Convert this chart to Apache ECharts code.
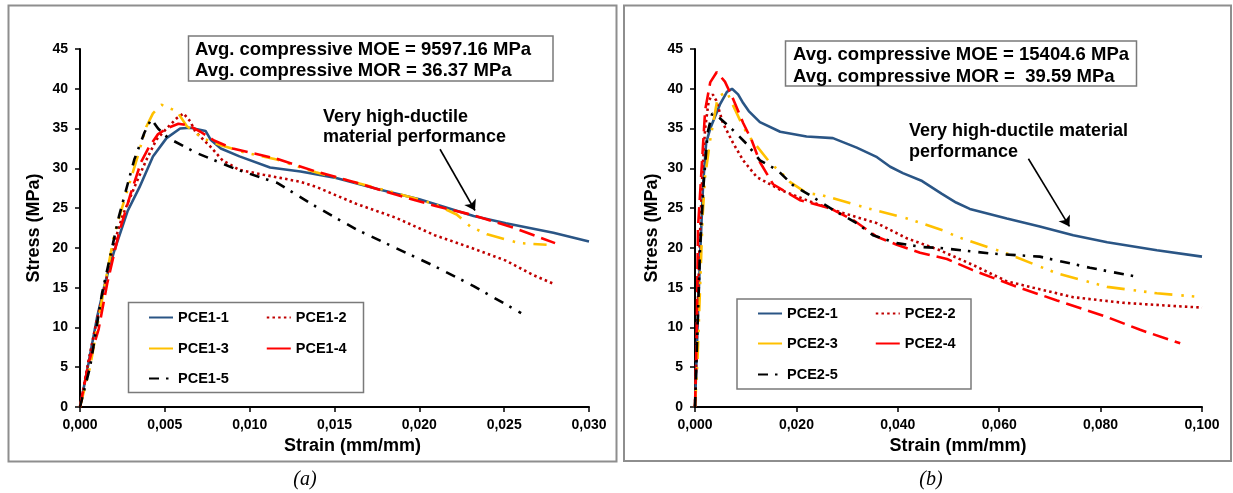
<!DOCTYPE html>
<html><head><meta charset="utf-8">
<script src="https://cdn.jsdelivr.net/npm/echarts@6/dist/echarts.min.js"></script>
<style>html,body{margin:0;padding:0;background:#fff}#c{width:1233px;height:493px}</style>
</head><body><div id="c"></div>
<script>
// ---------- DATA ----------
const yTicks = ['0','5','10','15','20','25','30','35','40','45'];
const xTicksA = ['0,000','0,005','0,010','0,015','0,020','0,025','0,030'];
const xTicksB = ['0,000','0,020','0,040','0,060','0,080','0,100'];
const namesA = ['PCE1-1','PCE1-2','PCE1-3','PCE1-4','PCE1-5'];
const namesB = ['PCE2-1','PCE2-2','PCE2-3','PCE2-4','PCE2-5'];

const PCE1_1 = [[0,0],[0.0005,5.5],[0.001,11.2],[0.0015,15.8],[0.002,19.5],[0.0028,24.6],[0.0035,27.6],[0.0043,31.5],[0.0051,33.8],[0.0059,35.0],[0.0065,35.1],[0.0074,34.7],[0.0077,33.6],[0.0083,32.5],[0.0094,31.5],[0.0112,30.1],[0.0130,29.6],[0.0151,28.8],[0.0177,27.3],[0.0200,26.1],[0.0232,24.0],[0.0251,23.1],[0.0279,21.9],[0.0300,20.8]];
const PCE1_2 = [[0,0],[0.0005,5.8],[0.001,11.0],[0.0015,15.5],[0.002,20.5],[0.0025,24.0],[0.0033,28.1],[0.0039,31.0],[0.0045,33.6],[0.0051,35.0],[0.0057,36.3],[0.0061,36.9],[0.0065,35.9],[0.0068,34.6],[0.0077,32.7],[0.0084,31.0],[0.0094,29.8],[0.0108,29.2],[0.0118,28.8],[0.0130,28.3],[0.0140,27.6],[0.0162,25.6],[0.0186,23.8],[0.0209,21.6],[0.0232,19.9],[0.0251,18.4],[0.0267,16.6],[0.0280,15.4]];
const PCE1_3 = [[0,0],[0.0006,5.1],[0.0013,13.5],[0.002,21.5],[0.0025,25.2],[0.003,28.7],[0.0034,31.5],[0.0039,35.2],[0.0043,36.9],[0.0048,38.0],[0.0051,37.7],[0.0057,37.2],[0.0063,35.3],[0.0072,33.8],[0.0083,32.9],[0.0097,32.0],[0.0116,31.1],[0.0139,29.5],[0.0163,28.2],[0.0186,26.9],[0.0209,25.5],[0.0222,24.2],[0.0230,22.7],[0.0240,21.7],[0.0259,20.6],[0.0275,20.4]];
const PCE1_4 = [[0,0],[0.0005,5.5],[0.0011,9.8],[0.0016,15.5],[0.0023,21.9],[0.003,26.9],[0.0036,30.8],[0.0041,32.8],[0.0046,34.3],[0.0052,35.1],[0.0058,35.6],[0.0064,35.4],[0.0071,34.6],[0.0079,33.5],[0.009,32.5],[0.0102,31.9],[0.0116,31.2],[0.0139,29.6],[0.0163,28.2],[0.0186,26.7],[0.0209,25.3],[0.0232,24.1],[0.0256,22.5],[0.0280,20.6]];
const PCE1_5 = [[0,0],[0.0006,5.1],[0.0013,14.3],[0.0023,24.0],[0.0032,31.1],[0.0038,34.5],[0.0042,36.2],[0.0046,35.0],[0.0052,33.8],[0.0069,31.9],[0.0093,29.8],[0.0116,28.2],[0.0139,25.2],[0.0163,22.3],[0.0186,20.0],[0.0209,17.7],[0.0232,15.2],[0.0260,11.8]];

const PCE2_1 = [[0,0],[0.0005,10.0],[0.001,19.0],[0.0016,28.0],[0.0022,33.2],[0.003,35.0],[0.0049,38.0],[0.0063,39.6],[0.0073,40.0],[0.0085,39.3],[0.0095,38.2],[0.0106,37.2],[0.0128,35.8],[0.0168,34.6],[0.022,34.0],[0.0272,33.8],[0.0319,32.6],[0.0359,31.4],[0.0385,30.2],[0.041,29.4],[0.0448,28.4],[0.0487,26.8],[0.0515,25.7],[0.0542,24.9],[0.0615,23.7],[0.068,22.7],[0.0746,21.6],[0.0813,20.7],[0.0911,19.7],[0.100,18.9]];
const PCE2_2 = [[0,0],[0.0005,12],[0.001,22],[0.0015,30],[0.002,35],[0.0027,38.5],[0.0035,39.3],[0.0042,38.5],[0.0055,35.7],[0.0075,33.2],[0.0095,31.0],[0.0122,28.9],[0.0168,27.3],[0.022,26.0],[0.0286,24.5],[0.0359,23.1],[0.0418,21.2],[0.0483,19.7],[0.055,17.8],[0.0615,15.8],[0.0667,15.0],[0.0746,13.8],[0.0844,13.1],[0.0943,12.7],[0.100,12.5]];
const PCE2_3 = [[0,0],[0.0005,6],[0.001,15],[0.0015,24],[0.002,29],[0.003,33.6],[0.0045,39.0],[0.0063,39.6],[0.0073,38.2],[0.0095,35.2],[0.0108,33.9],[0.0148,30.7],[0.0174,29.2],[0.0187,28.3],[0.022,26.9],[0.0252,26.6],[0.0339,25.0],[0.0418,23.7],[0.0489,22.2],[0.0517,21.4],[0.0615,19.3],[0.0714,16.8],[0.0813,15.1],[0.0911,14.3],[0.100,13.8]];
const PCE2_4 = [[0,0],[0.0003,8],[0.0006,22.6],[0.0014,31.0],[0.002,37.3],[0.003,40.8],[0.0043,42.1],[0.0059,40.9],[0.0076,38.6],[0.0095,35.7],[0.0112,33.5],[0.0128,30.8],[0.0154,28.0],[0.0207,26.0],[0.0266,25.0],[0.0312,23.5],[0.0359,21.4],[0.0398,20.4],[0.0444,19.4],[0.0497,18.6],[0.0548,17.2],[0.0635,15.1],[0.0714,13.4],[0.0813,11.3],[0.0878,9.7],[0.0957,8.0]];
const PCE2_5 = [[0,0],[0.0005,10],[0.001,20],[0.0017,28],[0.0025,34.5],[0.0034,36.9],[0.0049,36.3],[0.0075,34.8],[0.0103,33.0],[0.0128,31.0],[0.0162,29.8],[0.0193,27.9],[0.0227,26.6],[0.0272,24.8],[0.0319,23.1],[0.0351,21.6],[0.0398,20.6],[0.045,20.1],[0.0483,20.0],[0.0582,19.3],[0.068,18.9],[0.0779,17.5],[0.0878,16.3]];

const dataA = [PCE1_1, PCE1_2, PCE1_3, PCE1_4, PCE1_5];
const dataB = [PCE2_1, PCE2_2, PCE2_3, PCE2_4, PCE2_5];

// annotation arrows (data coordinates: [start],[end])
const arrowA = [[0.02122, 32.4], [0.02328, 24.7]];
const arrowB = [[0.06576, 31.2], [0.07385, 22.7]];

// ---------- STYLES ----------
const FONT = '"Liberation Sans", Arial, sans-serif';
const colors = ['#2a5585', '#c00000', '#ffc000', '#ff0000', '#000000'];
const dashes = ['solid', [2.5, 3.2], [18, 9, 2.5, 8, 2.5, 8], [16, 7], [10, 7, 2.5, 8]];

function mkSeries(names, datas, gi, arrow) {
  return names.map((n, i) => {
    const s = {
      name: n, type: 'line', xAxisIndex: gi, yAxisIndex: gi,
      data: datas[i], symbol: 'none', showSymbol: false, smooth: false,
      lineStyle: { color: colors[i], width: 2.6, type: dashes[i], cap: 'butt' },
      itemStyle: { color: colors[i] },
      z: 2 + i
    };
    if (i === 0) {
      s.markLine = {
        silent: true, symbol: ['none', 'arrow'], symbolSize: 10,
        label: { show: false },
        lineStyle: { color: '#000', width: 1.6, type: 'solid' },
        data: [[{ coord: arrow[0] }, { coord: arrow[1] }]]
      };
    }
    return s;
  });
}

function mkX(gi, max, interval, labels, padLeft, gap) {
  return {
    type: 'value', gridIndex: gi, min: 0, max: max, interval: interval,
    name: 'Strain (mm/mm)', nameLocation: 'middle', nameGap: gap,
    nameTextStyle: { fontFamily: FONT, fontWeight: 'bold', fontSize: 18, color: '#000', padding: [0, 0, 0, padLeft] },
    axisLine: { show: true, onZero: false, lineStyle: { color: '#000', width: 2 } },
    axisTick: { show: true, length: 5, lineStyle: { color: '#000', width: 1.5 } },
    axisLabel: { margin: 11, fontFamily: FONT, fontWeight: 'bold', fontSize: 14, color: '#000',
      formatter: v => labels[Math.round(v / interval)] },
    splitLine: { show: false }
  };
}
function mkY(gi, gap) {
  return {
    type: 'value', gridIndex: gi, min: 0, max: 45, interval: 5,
    name: 'Stress (MPa)', nameLocation: 'middle', nameGap: gap,
    nameTextStyle: { fontFamily: FONT, fontWeight: 'bold', fontSize: 18, color: '#000' },
    axisLine: { show: true, onZero: false, lineStyle: { color: '#000', width: 2 } },
    axisTick: { show: true, length: 5, lineStyle: { color: '#000', width: 1.5 } },
    axisLabel: { margin: 12, fontFamily: FONT, fontWeight: 'bold', fontSize: 14, color: '#000',
      formatter: v => yTicks[Math.round(v / 5)] },
    splitLine: { show: false }
  };
}
function mkLegend(data, left, top, solid) {
  const l = {
    data: data, left: left, top: top, orient: 'horizontal', padding: 0,
    itemWidth: 24, itemHeight: 14, itemGap: 37, selectedMode: false,
    itemStyle: { opacity: 0 },
    textStyle: { fontFamily: FONT, fontWeight: 'bold', fontSize: 14.5, color: '#000' }
  };
  if (solid) l.lineStyle = { type: 'solid' };
  return l;
}
function rect(x, y, w, h, stroke, lw) {
  return { type: 'rect', silent: true, z: 1, shape: { x: x, y: y, width: w, height: h },
    style: { fill: 'none', stroke: stroke, lineWidth: lw } };
}
function txt(x, y, t, size, lh, extra) {
  return { type: 'text', silent: true, z: 20, x: x, y: y,
    style: Object.assign({ text: t, fill: '#000', font: 'bold ' + size + 'px ' + FONT, lineHeight: lh, textVerticalAlign: 'top' }, extra || {}) };
}

const chart = echarts.init(document.getElementById('c'), null, { renderer: 'canvas' });
chart.setOption({
  animation: false,
  backgroundColor: '#fff',
  grid: [
    { left: 80, top: 49, width: 509, height: 358 },
    { left: 695, top: 49, width: 507, height: 358 }
  ],
  xAxis: [mkX(0, 0.03, 0.005, xTicksA, 36, 28), mkX(1, 0.1, 0.02, xTicksB, 19, 27)],
  yAxis: [mkY(0, 37), mkY(1, 34)],
  legend: [
    mkLegend([namesA[0], namesA[1]], 148, 310),
    mkLegend([namesA[2], namesA[3]], 148, 341, true),
    mkLegend([namesA[4]], 148, 371),
    mkLegend([namesB[0], namesB[1]], 757, 306),
    mkLegend([namesB[2], namesB[3]], 757, 336, true),
    mkLegend([namesB[4]], 757, 367)
  ],
  series: mkSeries(namesA, dataA, 0, arrowA).concat(mkSeries(namesB, dataB, 1, arrowB)),
  graphic: [
    rect(8.5, 5.5, 608, 456, '#8e8e8e', 2),
    rect(624, 5.5, 607, 455.5, '#8e8e8e', 2),
    rect(128.5, 302.5, 235, 90, '#7a7a7a', 1.5),
    rect(737, 299, 234, 90, '#7a7a7a', 1.5),
    { type: 'rect', silent: true, z: 15, shape: { x: 188.5, y: 36, width: 364.5, height: 45 }, style: { fill: '#fff', stroke: '#7a7a7a', lineWidth: 1.5 } },
    { type: 'rect', silent: true, z: 15, shape: { x: 785.5, y: 41, width: 351, height: 45 }, style: { fill: '#fff', stroke: '#7a7a7a', lineWidth: 1.5 } },
    txt(195, 39.8, 'Avg. compressive MOE = 9597.16 MPa\nAvg. compressive MOR = 36.37 MPa', 18.5, 21),
    txt(793, 44.2, 'Avg. compressive MOE = 15404.6 MPa\nAvg. compressive MOR =  39.59 MPa', 18.5, 21.7),
    txt(323, 106.5, 'Very high-ductile\nmaterial performance', 18, 20.5),
    txt(909, 120.3, 'Very high-ductile material\nperformance', 18, 21.3),
    { type: 'text', silent: true, x: 305, y: 480, style: { text: '(a)', fill: '#000', font: 'italic 20px "Liberation Serif", "Times New Roman", serif', textAlign: 'center', textVerticalAlign: 'middle' } },
    { type: 'text', silent: true, x: 931, y: 480, style: { text: '(b)', fill: '#000', font: 'italic 20px "Liberation Serif", "Times New Roman", serif', textAlign: 'center', textVerticalAlign: 'middle' } }
  ]
});
</script></body></html>
